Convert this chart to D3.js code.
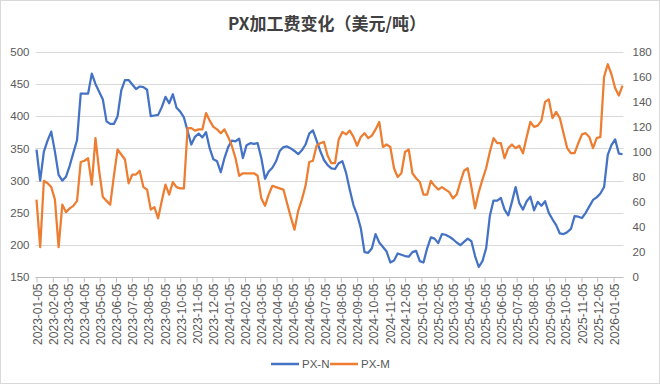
<!DOCTYPE html>
<html><head><meta charset="utf-8">
<script src="https://cdn.jsdelivr.net/npm/d3@7"></script>
<style>body{margin:0;background:#fff}svg{display:block}</style>
</head><body><svg id="c" width="660" height="384"></svg>
<script>
const chartTitle = "PX加工费变化（美元/吨）";
const seriesNames = ["PX-N", "PX-M"];
const startDate = "2023-01-05";   // first weekly observation
const monthTickCount = 37;        // monthly axis labels 2023-01-05 .. 2026-01-05
const leftTicks = [150, 200, 250, 300, 350, 400, 450, 500];
const rightTicks = [0, 20, 40, 60, 80, 100, 120, 140, 160, 180];

// PX-N (left axis), weekly
const pxN = [
348,300,345,362,376,345,309,300,306,323,
343,363,435,435,435,466,450,438,426,392,
388,388,400,440,456,456,449,442,446,445,
441,400,401,402,414,430,420,434,413,407,
398,377,356,368,373,367,375,350,333,330,
313,335,352,362,361,365,335,355,358,357,
358,335,303,314,320,330,346,352,353,350,
346,341,347,356,373,378,362,346,332,324,
319,318,327,330,312,286,262,247,226,189,
188,195,217,204,197,190,173,176,187,185,
183,182,189,191,175,173,195,212,210,203,
217,216,213,209,204,200,205,210,206,183,
166,175,195,245,269,269,273,255,246,267,
290,265,255,268,275,254,267,261,268,250,
240,231,218,217,220,225,245,244,242,250,
260,270,274,280,290,340,355,364,342,341
];
// PX-M (right axis), weekly
const pxM = [
62,24,77,75,72,62,24,58,52,55,
57,61,92,93,95,74,111,85,64,61,
58,81,102,98,94,75,82,82,85,72,
70,54,56,47,61,74,66,76,72,71,
71,119,119,117,118,118,131,125,120,118,
115,118,112,105,95,81,83,83,83,83,
81,63,57,66,73,72,71,70,59,48,
38,53,62,73,92,93,105,107,108,97,
91,91,110,116,114,117,112,105,112,115,
111,113,118,124,104,106,104,87,80,83,
100,102,83,79,76,66,66,77,73,70,
72,70,68,63,66,76,85,87,72,55,
68,78,87,100,111,107,107,95,103,106,
103,105,99,112,124,120,121,125,140,142,
127,132,127,115,103,99,99,107,114,115,
112,103,111,112,160,170,162,151,145,153
];

const colors = ["#4472C4", "#ED7D31"];
const svg = d3.select("#c");
const W = 660, H = 384;
const plot = {left: 36.5, right: 622.5, top: 51.7, bottom: 277.3};
const numFont = "'Liberation Sans', Arial, sans-serif";
const labelColor = "#595959";

svg.append("rect").attr("x", 0.5).attr("y", 0.5).attr("width", W - 1).attr("height", H - 1)
  .attr("fill", "#fff").attr("stroke", "#d9d9d9");

const t0 = d3.timeParse("%Y-%m-%d")(startDate);
const dates = pxN.map((_, i) => d3.timeDay.offset(t0, 7 * i));
const tickDates = d3.range(monthTickCount).map(k => d3.timeMonth.offset(t0, k));

const x = d3.scaleTime().domain([t0, dates[dates.length - 1]]).range([plot.left, plot.right]);
const yL = d3.scaleLinear().domain([150, 500]).range([plot.bottom, plot.top]);
const yR = d3.scaleLinear().domain([0, 180]).range([plot.bottom, plot.top]);

// gridlines
svg.append("g").selectAll("line").data(leftTicks.slice(1)).join("line")
  .attr("x1", plot.left - 1).attr("x2", plot.right + 1)
  .attr("y1", d => Math.round(yL(d)) + 0.5).attr("y2", d => Math.round(yL(d)) + 0.5)
  .attr("stroke", "#d9d9d9").attr("stroke-width", 1);

// left axis labels
const gl = svg.append("g").attr("transform", `translate(${plot.left - 7},0)`)
  .call(d3.axisLeft(yL).tickValues(leftTicks).tickSize(0).tickPadding(0));
gl.select(".domain").remove();
gl.selectAll("text").attr("font-family", numFont).attr("font-size", 11.5).attr("fill", labelColor);

// right axis labels
const gr = svg.append("g").attr("transform", `translate(${plot.right + 10},0)`)
  .call(d3.axisRight(yR).tickValues(rightTicks).tickSize(0).tickPadding(0));
gr.select(".domain").remove();
gr.selectAll("text").attr("font-family", numFont).attr("font-size", 11.5).attr("fill", labelColor);

// bottom axis
const gb = svg.append("g").attr("transform", `translate(0,${Math.round(plot.bottom) + 0.5})`)
  .call(d3.axisBottom(x).tickValues(tickDates).tickSize(5).tickSizeOuter(0)
    .tickFormat(d3.timeFormat("%Y-%m-%d")));
gb.select(".domain").attr("stroke", "#bfbfbf").attr("d", `M${plot.left - 1},0H${plot.right + 1}`);
gb.selectAll(".tick line").attr("stroke", "#bfbfbf");
gb.selectAll("text")
  .attr("font-family", numFont).attr("font-size", 12).attr("fill", labelColor)
  .attr("text-anchor", "end")
  .attr("transform", "rotate(-90)")
  .attr("x", -6).attr("y", 0).attr("dy", "0.4em");

// lines
const lineN = d3.line().x((d, i) => x(dates[i])).y(d => yL(d));
const lineM = d3.line().x((d, i) => x(dates[i])).y(d => yR(d));
svg.append("path").datum(pxN).attr("d", lineN).attr("fill", "none")
  .attr("stroke", colors[0]).attr("stroke-width", 2.25).attr("stroke-linejoin", "round");
svg.append("path").datum(pxM).attr("d", lineM).attr("fill", "none")
  .attr("stroke", colors[1]).attr("stroke-width", 2.25).attr("stroke-linejoin", "round");

// title
svg.append("text").attr("x", 327).attr("y", 30).attr("text-anchor", "middle")
  .attr("font-family", "'Noto Sans CJK SC', sans-serif").attr("font-weight", "bold")
  .attr("font-size", 17).attr("fill", "#404040").text(chartTitle);

// legend
const legX = [271, 330];
seriesNames.forEach((name, k) => {
  const g = svg.append("g").attr("transform", `translate(${legX[k]},364)`);
  g.append("line").attr("x1", 0).attr("x2", 28).attr("y1", 0).attr("y2", 0)
    .attr("stroke", colors[k]).attr("stroke-width", 2.5);
  g.append("text").attr("x", 31).attr("y", 0).attr("dy", "0.35em")
    .attr("font-family", numFont).attr("font-size", 11.5).attr("fill", labelColor).text(name);
});
</script></body></html>
